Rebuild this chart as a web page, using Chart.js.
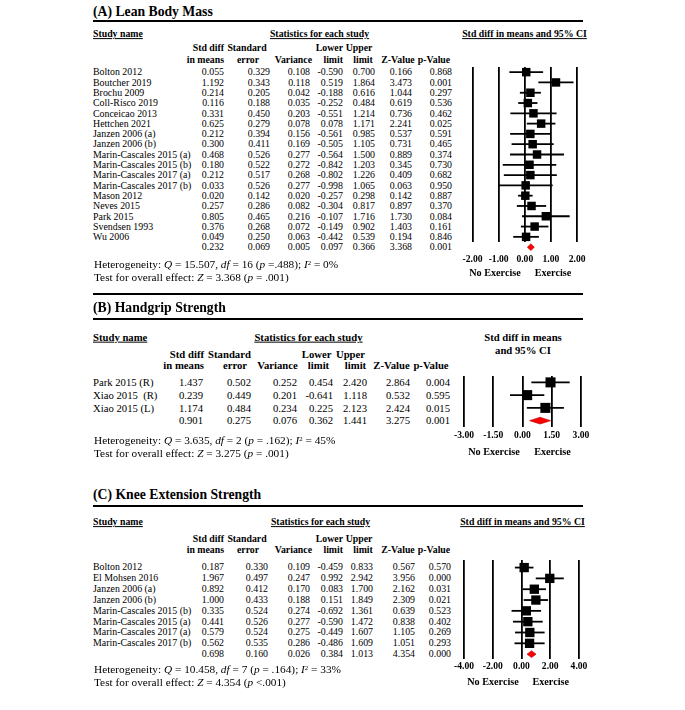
<!DOCTYPE html>
<html>
<head>
<meta charset="utf-8">
<script src="https://cdn.jsdelivr.net/npm/chart.js@4.4.1/dist/chart.umd.min.js"></script>
<style>
  html, body { margin: 0; padding: 0; background: #fff; }
  #page { position: relative; width: 685px; height: 710px; overflow: hidden;
          font-family: "Liberation Serif", "Times New Roman", serif; color: #000; }
  .t { position: absolute; white-space: pre; line-height: 1; }
  .rule { position: absolute; height: 2px; background: #000; }
  canvas { position: absolute; }
  sup { font-size: 0.6em; line-height: 0; vertical-align: 0.55em; }
</style>
</head>
<body>
<div id="page"></div>
<script>
// (A) Lean body mass
const lbmStudies = ['Bolton 2012', 'Boutcher 2019', 'Brochu 2009', 'Coll-Risco 2019', 'Conceicao 2013',
  'Hettchen 2021', 'Janzen 2006 (a)', 'Janzen 2006 (b)', 'Marin-Cascales 2015 (a)', 'Marin-Cascales 2015 (b)',
  'Marin-Cascales 2017 (a)', 'Marin-Cascales 2017 (b)', 'Mason 2012', 'Neves 2015', 'Park 2015',
  'Svendsen 1993', 'Wu 2006'];
const lbmSmd   = [0.055, 1.192, 0.214, 0.116, 0.331, 0.625, 0.212, 0.300, 0.468, 0.180, 0.212, 0.033, 0.020, 0.257, 0.805, 0.376, 0.049];
const lbmSe    = [0.329, 0.343, 0.205, 0.188, 0.450, 0.279, 0.394, 0.411, 0.526, 0.522, 0.517, 0.526, 0.142, 0.286, 0.465, 0.268, 0.250];
const lbmVar   = [0.108, 0.118, 0.042, 0.035, 0.203, 0.078, 0.156, 0.169, 0.277, 0.272, 0.268, 0.277, 0.020, 0.082, 0.216, 0.072, 0.063];
const lbmLower = [-0.590, 0.519, -0.188, -0.252, -0.551, 0.078, -0.561, -0.505, -0.564, -0.842, -0.802, -0.998, -0.257, -0.304, -0.107, -0.149, -0.442];
const lbmUpper = [0.700, 1.864, 0.616, 0.484, 1.214, 1.171, 0.985, 1.105, 1.500, 1.203, 1.226, 1.065, 0.298, 0.817, 1.716, 0.902, 0.539];
const lbmZ     = [0.166, 3.473, 1.044, 0.619, 0.736, 2.241, 0.537, 0.731, 0.889, 0.345, 0.409, 0.063, 0.142, 0.897, 1.730, 1.403, 0.194];
const lbmP     = [0.868, 0.001, 0.297, 0.536, 0.462, 0.025, 0.591, 0.465, 0.374, 0.730, 0.682, 0.950, 0.887, 0.370, 0.084, 0.161, 0.846];
const lbmPooled = [0.232, 0.069, 0.005, 0.097, 0.366, 3.368, 0.001]; // smd, se, var, lower, upper, z, p
const lbmTicks = [-2, -1, 0, 1, 2];

// (B) Handgrip strength
const hgStudies = ['Park 2015 (R)', 'Xiao 2015  (R)', 'Xiao 2015 (L)'];
const hgSmd   = [1.437, 0.239, 1.174];
const hgSe    = [0.502, 0.449, 0.484];
const hgVar   = [0.252, 0.201, 0.234];
const hgLower = [0.454, -0.641, 0.225];
const hgUpper = [2.420, 1.118, 2.123];
const hgZ     = [2.864, 0.532, 2.424];
const hgP     = [0.004, 0.595, 0.015];
const hgPooled = [0.901, 0.275, 0.076, 0.362, 1.441, 3.275, 0.001];
const hgTicks = [-3, -1.5, 0, 1.5, 3];

// (C) Knee extension strength
const keStudies = ['Bolton 2012', 'El Mohsen 2016', 'Janzen 2006 (a)', 'Janzen 2006 (b)', 'Marin-Cascales 2015 (b)',
  'Marin-Cascales 2015 (a)', 'Marin-Cascales 2017 (a)', 'Marin-Cascales 2017 (b)'];
const keSmd   = [0.187, 1.967, 0.892, 1.000, 0.335, 0.441, 0.579, 0.562];
const keSe    = [0.330, 0.497, 0.412, 0.433, 0.524, 0.526, 0.524, 0.535];
const keVar   = [0.109, 0.247, 0.170, 0.188, 0.274, 0.277, 0.275, 0.286];
const keLower = [-0.459, 0.992, 0.083, 0.151, -0.692, -0.590, -0.449, -0.486];
const keUpper = [0.833, 2.942, 1.700, 1.849, 1.361, 1.472, 1.607, 1.609];
const keZ     = [0.567, 3.956, 2.162, 2.309, 0.639, 0.838, 1.105, 1.051];
const keP     = [0.570, 0.000, 0.031, 0.021, 0.523, 0.402, 0.269, 0.293];
const kePooled = [0.698, 0.160, 0.026, 0.384, 1.013, 4.354, 0.000];
const keTicks = [-4, -2, 0, 2, 4];

const page = document.getElementById('page');
const SERIF = '"Liberation Serif", "Times New Roman", serif';

function put(x, y, html, o = {}) {
  const d = document.createElement('div');
  d.className = 't';
  d.innerHTML = html;
  d.style.left = x + 'px';
  d.style.top = y + 'px';
  d.style.fontSize = (o.size || 9.9) + 'px';
  if (o.bold) d.style.fontWeight = 'bold';
  if (o.u) d.style.textDecoration = 'underline';
  const ax = o.align === 'right' ? '-100%' : o.align === 'center' ? '-50%' : '0';
  d.style.transform = 'translate(' + ax + ', -50%)';
  page.appendChild(d);
}

function rule(y) {
  const r = document.createElement('div');
  r.className = 'rule';
  r.style.left = '93px';
  r.style.width = '490px';
  r.style.top = (y - 1) + 'px';
  page.appendChild(r);
}

function table(names, cols, pooled, L) {
  names.forEach((n, i) => {
    const y = L.row0 + L.step * i;
    put(93, y, n, { size: L.size });
    cols.forEach((c, j) => put(L.colX[j], y, c[i].toFixed(3), { size: L.size, align: 'right' }));
  });
  const y = L.row0 + L.step * names.length;
  pooled.forEach((v, j) => put(L.colX[j], y, v.toFixed(3), { size: L.size, align: 'right' }));
}

function headers(list, size) {
  list.forEach(([s, x, y, align]) => put(x, y, s, { size, bold: true, align }));
}

// red pooled-effect diamond, placed with the chart's own scales
const diamondPlugin = {
  id: 'diamond',
  afterDatasetsDraw(chart, args, d) {
    const { x, y } = chart.scales;
    const ctx = chart.ctx;
    const cy = y.getPixelForValue(d.row);
    ctx.save();
    ctx.beginPath();
    ctx.moveTo(x.getPixelForValue(d.lo), cy);
    ctx.lineTo(x.getPixelForValue(d.est), cy - d.h);
    ctx.lineTo(x.getPixelForValue(d.hi), cy);
    ctx.lineTo(x.getPixelForValue(d.est), cy + d.h);
    ctx.closePath();
    ctx.fillStyle = '#ff0000';
    ctx.fill();
    ctx.lineWidth = 0.6;
    ctx.strokeStyle = '#b00000';
    ctx.stroke();
    ctx.restore();
  }
};

function forest(L, smd, lower, upper, pooled, ticks) {
  const pad = 15;
  const cv = document.createElement('canvas');
  cv.width = L.right - L.left + 2 * pad;
  cv.height = L.padTop + L.areaH + L.axisH;
  cv.style.left = (L.left - pad) + 'px';
  cv.style.top = (L.top - L.padTop) + 'px';
  page.appendChild(cv);

  const squares = {
    data: smd.map((v, i) => ({ x: v, y: i })),
    pointStyle: 'rect', pointRadius: L.sq, backgroundColor: '#000', borderWidth: 0, clip: false
  };
  const whiskers = smd.map((_, i) => ({
    data: [{ x: lower[i], y: i }, { x: upper[i], y: i }],
    showLine: true, borderColor: '#000', borderWidth: 1.8, pointRadius: 0, clip: false
  }));

  return new Chart(cv, {
    type: 'scatter',
    data: { datasets: [squares].concat(whiskers) },
    options: {
      responsive: false,
      animation: false,
      events: [],
      layout: { padding: { left: pad, right: pad, top: L.padTop, bottom: 0 } },
      plugins: {
        legend: { display: false },
        tooltip: { enabled: false },
        diamond: { row: smd.length, est: pooled[0], lo: pooled[3], hi: pooled[4], h: 3.4 }
      },
      scales: {
        x: {
          type: 'linear',
          min: ticks[0],
          max: ticks[ticks.length - 1],
          afterBuildTicks: s => { s.ticks = ticks.map(v => ({ value: v })); },
          afterFit: s => { s.height = L.axisH; },
          ticks: {
            callback: v => v.toFixed(2),
            color: '#000',
            padding: L.tickPad,
            maxRotation: 0,
            autoSkip: false,
            font: { family: SERIF, size: 9.6, weight: 'bold' }
          },
          grid: { color: '#000', lineWidth: 1.8, drawTicks: false },
          border: { display: false }
        },
        y: { type: 'linear', display: false, reverse: true, min: L.yMin, max: L.yMax }
      }
    },
    plugins: [diamondPlugin]
  });
}

function stats(lines, y1, y2, size) {
  put(94, y1, lines[0], { size });
  put(94, y2, lines[1], { size });
}

// ---------- Panel A ----------
put(93, 11.5, '(A) Lean Body Mass', { size: 13.7, bold: true });
rule(20.5);
put(93, 34.3, 'Study name', { size: 9.8, bold: true, u: true });
put(319.5, 34.3, 'Statistics for each study', { size: 9.8, bold: true, u: true, align: 'center' });
put(524.5, 34.3, 'Std diff in means and 95% CI', { size: 9.8, bold: true, u: true, align: 'center' });
headers([
  ['Std diff', 224, 48.3, 'right'], ['in means', 224, 60, 'right'],
  ['Standard', 247, 48.3, 'center'], ['error', 248, 60, 'center'],
  ['Variance', 312, 60, 'right'],
  ['Lower', 343, 48.3, 'right'], ['limit', 343, 60, 'right'],
  ['Upper', 359, 48.3, 'center'], ['limit', 363, 60, 'center'],
  ['Z-Value', 398, 60, 'center'], ['p-Value', 434, 60, 'center']
], 9.8);
table(lbmStudies, [lbmSmd, lbmSe, lbmVar, lbmLower, lbmUpper, lbmZ, lbmP], lbmPooled,
  { row0: 72.3, step: 10.3, size: 9.9, colX: [224, 270, 310, 343, 375, 412, 452] });
forest({ left: 466, right: 582, top: 67, padTop: 8, areaH: 175, axisH: 40, tickPad: 11.5,
         yMin: -0.5, yMax: 16.5, sq: 6 }, lbmSmd, lbmLower, lbmUpper, lbmPooled, lbmTicks);
put(495, 272.7, 'No Exercise', { size: 10.2, bold: true, align: 'center' });
put(553, 272.7, 'Exercise', { size: 10.2, bold: true, align: 'center' });
stats(['Heterogeneity: <i>Q</i> = 15.507, <i>df</i> = 16 (<i>p</i> =.488); <i>I</i><sup>2</sup> = 0%',
       'Test for overall effect: <i>Z</i> = 3.368 (<i>p</i> = .001)'], 265, 277.5, 11.3);
rule(293.5);

// ---------- Panel B ----------
put(93, 308, '(B) Handgrip Strength', { size: 13.7, bold: true });
rule(318.5);
put(93, 337.3, 'Study name', { size: 10.7, bold: true, u: true });
put(308.5, 337.3, 'Statistics for each study', { size: 10.7, bold: true, u: true, align: 'center' });
put(523, 336.7, 'Std diff in means', { size: 10.7, bold: true, align: 'center' });
put(523, 350, 'and 95% CI', { size: 10.7, bold: true, align: 'center' });
headers([
  ['Std diff', 204, 354.3, 'right'], ['in means', 204, 365, 'right'],
  ['Standard', 229.5, 354.3, 'center'], ['error', 235, 365, 'center'],
  ['Variance', 277.5, 365, 'center'],
  ['Lower', 316.7, 354.3, 'center'], ['limit', 318.5, 365, 'center'],
  ['Upper', 350.5, 354.3, 'center'], ['limit', 355.5, 365, 'center'],
  ['Z-Value', 391.5, 365, 'center'], ['p-Value', 431, 365, 'center']
], 10.7);
table(hgStudies, [hgSmd, hgSe, hgVar, hgLower, hgUpper, hgZ, hgP], hgPooled,
  { row0: 382.3, step: 12.7, size: 10.7, colX: [203, 251, 297, 333, 367, 410, 450] });
forest({ left: 464, right: 581, top: 376, padTop: 8, areaH: 51, axisH: 30, tickPad: 3,
         yMin: -0.5, yMax: 3.5, sq: 7.1 }, hgSmd, hgLower, hgUpper, hgPooled, hgTicks);
put(494, 452.3, 'No Exercise', { size: 10.2, bold: true, align: 'center' });
put(552.5, 452.3, 'Exercise', { size: 10.2, bold: true, align: 'center' });
stats(['Heterogeneity: <i>Q</i> = 3.635, <i>df</i> = 2 (<i>p</i> = .162); <i>I</i><sup>2</sup> = 45%',
       'Test for overall effect: <i>Z</i> = 3.275 (<i>p</i> = .001)'], 441, 453.5, 11.3);

// ---------- Panel C ----------
put(93, 495, '(C) Knee Extension Strength', { size: 13.7, bold: true });
rule(505.5);
put(93, 522.3, 'Study name', { size: 9.8, bold: true, u: true });
put(320.5, 522.3, 'Statistics for each study', { size: 9.8, bold: true, u: true, align: 'center' });
put(522.5, 521.7, 'Std diff in means and 95% CI', { size: 9.8, bold: true, u: true, align: 'center' });
headers([
  ['Std diff', 224, 539.3, 'right'], ['in means', 224, 550, 'right'],
  ['Standard', 247, 539.3, 'center'], ['error', 248, 550, 'center'],
  ['Variance', 312, 550, 'right'],
  ['Lower', 343, 539.3, 'right'], ['limit', 343, 550, 'right'],
  ['Upper', 359, 539.3, 'center'], ['limit', 363, 550, 'center'],
  ['Z-Value', 398, 550, 'center'], ['p-Value', 434, 550, 'center']
], 9.8);
table(keStudies, [keSmd, keSe, keVar, keLower, keUpper, keZ, keP], kePooled,
  { row0: 567.3, step: 10.84, size: 9.9, colX: [224, 268, 310, 343, 373, 415, 451] });
forest({ left: 464, right: 579, top: 560, padTop: 8, areaH: 99, axisH: 30, tickPad: 2,
         yMin: -0.7, yMax: 8.45, sq: 6.6 }, keSmd, keLower, keUpper, kePooled, keTicks);
put(493, 681.7, 'No Exercise', { size: 10.2, bold: true, align: 'center' });
put(550.7, 681.7, 'Exercise', { size: 10.2, bold: true, align: 'center' });
stats(['Heterogeneity: <i>Q</i> = 10.458, <i>df</i> = 7 (<i>p</i> = .164); <i>I</i><sup>2</sup> = 33%',
       'Test for overall effect: <i>Z</i> = 4.354 (<i>p</i> &lt;.001)'], 670, 682.5, 11.3);
</script>
</body>
</html>
